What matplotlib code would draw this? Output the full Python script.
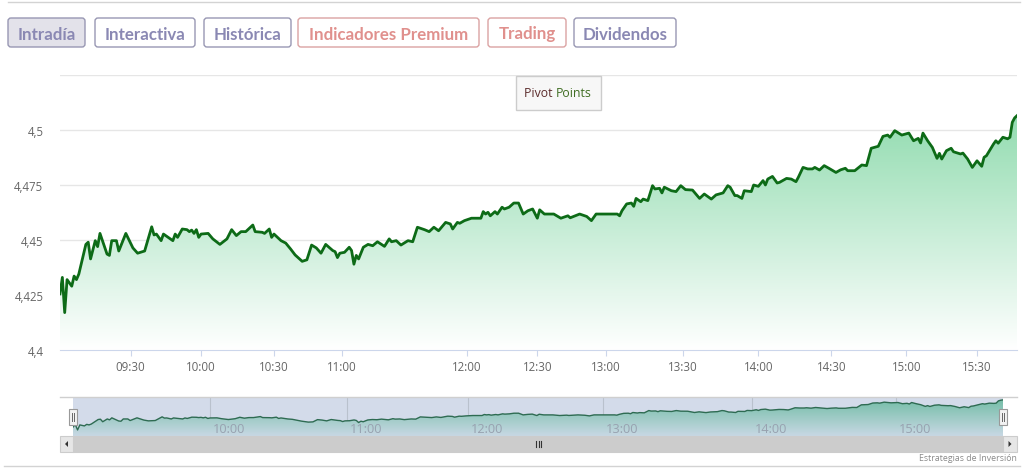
import numpy as np
import matplotlib
matplotlib.use("Agg")
import matplotlib.pyplot as plt
from matplotlib.patches import Rectangle, FancyBboxPatch, Polygon

W, H = 1033, 477

# ordinal minute index (Highstock-style axis) and price
idx = [0, 1, 2, 3, 5, 6, 7, 8, 11, 12, 13, 15, 16, 17, 20, 21, 22, 24, 25, 28,
       31, 33, 36, 39, 40, 41, 43, 44, 48, 49, 50, 52, 54, 55, 56, 57, 58, 59, 60, 63,
       65, 68, 71, 73, 75, 77, 79, 82, 83, 86, 87, 89, 90, 91, 94, 96, 98, 100, 103, 105,
       107, 109, 111, 113, 116, 117, 118, 119, 121, 123, 124, 125, 126, 127, 129, 131, 133, 135, 138, 140,
       141, 143, 145, 148, 150, 152, 155, 157, 159, 161, 164, 166, 167, 169, 170, 172, 175, 179, 180, 181,
       182, 183, 185, 186, 188, 189, 191, 193, 195, 197, 199, 201, 203, 204, 206, 210, 213, 216, 217, 221,
       224, 226, 228, 237, 238, 239, 241, 243, 244, 245, 247, 248, 250, 252, 253, 255, 256, 257, 260, 262,
       264, 266, 269, 272, 274, 277, 279, 282, 284, 285, 287, 288, 290, 291, 294, 295, 297, 299, 300, 301,
       303, 305, 306, 309, 311, 313, 314, 316, 318, 320, 321, 323, 325, 327, 330, 332, 334, 335, 338, 341,
       343, 345, 348, 350, 352, 353, 355, 358, 361, 363, 365, 366, 367, 369, 371, 373, 374, 375, 377, 379,
       380, 383, 384, 386, 388, 390, 392, 393, 394, 397, 398, 399, 401, 403, 404, 405, 406, 407]
price = [4.4255, 4.433, 4.417, 4.432, 4.429, 4.4336, 4.432, 4.4345, 4.448, 4.449, 4.4414, 4.4497, 4.447, 4.453, 4.4436, 4.443, 4.4497, 4.4497, 4.445, 4.453,
         4.4464, 4.444, 4.445, 4.456, 4.4523, 4.4527, 4.4497, 4.4527, 4.4497, 4.4527, 4.4512, 4.455, 4.4547, 4.4538, 4.4545, 4.453, 4.4547, 4.4512, 4.4527, 4.453,
         4.4505, 4.448, 4.4505, 4.4547, 4.452, 4.4538, 4.4538, 4.4568, 4.4538, 4.4535, 4.453, 4.455, 4.4512, 4.4527, 4.4497, 4.4486, 4.446, 4.4432, 4.4403, 4.441,
         4.4477, 4.4464, 4.444, 4.448, 4.4452, 4.4447, 4.442, 4.444, 4.4444, 4.4467, 4.4452, 4.439, 4.443, 4.4414, 4.4467, 4.448, 4.4474, 4.4492, 4.4471, 4.4505,
         4.4492, 4.4497, 4.4477, 4.4497, 4.4492, 4.4558, 4.4547, 4.4538, 4.4558, 4.4542, 4.458, 4.4573, 4.455, 4.458, 4.4576, 4.4588, 4.4599, 4.4599, 4.4629, 4.4618,
         4.4626, 4.461, 4.4629, 4.4618, 4.4649, 4.4641, 4.4649, 4.4668, 4.4668, 4.4618, 4.4633, 4.4641, 4.4599, 4.4637, 4.4618, 4.4618, 4.4599, 4.461, 4.4601, 4.4618,
         4.4607, 4.4588, 4.4618, 4.4618, 4.461, 4.4633, 4.4664, 4.4668, 4.4653, 4.4689, 4.4674, 4.4686, 4.4679, 4.4747, 4.4732, 4.4735, 4.4714, 4.474, 4.4724, 4.472,
         4.4747, 4.4729, 4.4727, 4.4689, 4.4709, 4.4686, 4.4705, 4.4714, 4.4747, 4.474, 4.4702, 4.4702, 4.4689, 4.4724, 4.472, 4.475, 4.4744, 4.477, 4.475, 4.4777,
         4.4789, 4.4759, 4.4762, 4.478, 4.4777, 4.4765, 4.4785, 4.483, 4.4823, 4.4823, 4.483, 4.4818, 4.4838, 4.4826, 4.4807, 4.4819, 4.4826, 4.4815, 4.4815, 4.4841,
         4.4838, 4.4917, 4.4926, 4.4971, 4.4977, 4.4967, 4.4997, 4.4977, 4.4986, 4.4951, 4.4962, 4.4941, 4.4986, 4.4951, 4.4921, 4.4871, 4.4894, 4.4868, 4.4906, 4.4917,
         4.4901, 4.4891, 4.4895, 4.4868, 4.483, 4.486, 4.4835, 4.4876, 4.4883, 4.4936, 4.4951, 4.494, 4.4967, 4.496, 4.4967, 4.5035, 4.5055, 4.5065]

tick_idx = [30, 60, 91, 120, 173, 203, 232, 265, 297, 328, 360, 390]
tick_lbl = ["09:30", "10:00", "10:30", "11:00", "12:00", "12:30", "13:00",
            "13:30", "14:00", "14:30", "15:00", "15:30"]
nav_idx = [60, 120, 173, 232, 297, 360]
nav_lbl = ["10:00", "11:00", "12:00", "13:00", "14:00", "15:00"]
y_ticks = [4.4, 4.425, 4.45, 4.475, 4.5, 4.525]
y_lbl = ["4,4", "4,425", "4,45", "4,475", "4,5", ""]

buttons = ["Intradía", "Interactiva", "Histórica", "Indicadores Premium", "Trading", "Dividendos"]
btn_x = [(8, 85), (95, 195), (204, 291), (298, 479), (488, 566), (574, 676)]

plt.rcParams["font.family"] = ["Open Sans", "DejaVu Sans"]


def px_axes(fig, l, t, r, b):
    return fig.add_axes([l / W, 1 - b / H, (r - l) / W, (b - t) / H])


def gradient_fill(ax, x, y, base, top_rgb, bot_rgb, y0, y1, z=1):
    g = np.linspace(0, 1, 256)[:, None, None]
    img = np.array(top_rgb)[None, None, :] * (1 - g) + np.array(bot_rgb)[None, None, :] * g
    im = ax.imshow(img / 255.0, aspect="auto", extent=[x[0], x[-1], y0, y1],
                   origin="upper", zorder=z, interpolation="bilinear")
    poly = ax.fill_between(x, y, base, facecolor="none", edgecolor="none")
    im.set_clip_path(poly.get_paths()[0], transform=ax.transData)


x = np.array(idx, dtype=float)
y = np.array(price)

fig = plt.figure(figsize=(W / 100, H / 100), dpi=100)

# ---- main chart ----
ax = px_axes(fig, 60, 76, 1017, 351)
gradient_fill(ax, x, y, 4.4, (128, 214, 163), (255, 255, 255), 4.4, 4.525)
ax.plot(x, y, color="#0d6b17", lw=2.0, zorder=3, solid_joinstyle="round")
ax.set_xlim(0, 407)
ax.set_ylim(4.4, 4.525)
ax.set_yticks(y_ticks)
ax.set_yticklabels(y_lbl)
ax.set_xticks(tick_idx)
ax.set_xticklabels(tick_lbl)
ax.grid(axis="y", color="#e6e6e6", lw=1)
ax.set_axisbelow(True)
for s in ["top", "left", "right"]:
    ax.spines[s].set_visible(False)
ax.spines["bottom"].set_color("#ccd6eb")
ax.tick_params(axis="y", length=0, pad=12, labelsize=8.3, labelcolor="#666666")
ax.tick_params(axis="x", length=4, color="#ccd6eb", pad=3, labelsize=8.3, labelcolor="#666666")
ax.set_facecolor("none")

# ---- navigator ----
nav = px_axes(fig, 73, 398, 1003, 437)
nav.set_facecolor("#d3dbea")
gradient_fill(nav, x, y, 4.399, (112, 188, 164), (200, 216, 228), 4.399, 4.515, z=2)
nav.plot(x, y, color="#2e6b52", lw=1.0, zorder=3)
nav.set_xlim(0, 407)
nav.set_ylim(4.399, 4.515)
for xi, lb in zip(nav_idx, nav_lbl):
    nav.axvline(xi, color="#b9c1cd", lw=0.8, zorder=1.5)
    nav.text(xi + 1.3, 4.402, lb, fontsize=9.2, color="#98a2b0", ha="left", va="bottom", zorder=4)
nav.set_xticks([])
nav.set_yticks([])
for s in nav.spines.values():
    s.set_visible(False)

# ---- overlay: buttons, scrollbar, frame lines ----
ov = fig.add_axes([0, 0, 1, 1], zorder=10)
ov.set_xlim(0, W)
ov.set_ylim(H, 0)
ov.axis("off")
ov.patch.set_alpha(0)

ov.plot([8, 1020], [3, 3], color="#d3d3d3", lw=1)
ov.plot([4, 1020], [467, 467], color="#d3d3d3", lw=1)
ov.plot([60, 1017], [397.5, 397.5], color="#cfcfcf", lw=1)

for name, (x0, x1) in zip(buttons, btn_x):
    premium = name in ("Indicadores Premium", "Trading")
    edge = "#dba3a3" if premium else "#9897b3"
    tcol = "#e0908d" if premium else "#8a88b3"
    face = "#e3e2ea" if name == "Intradía" else "white"
    ov.add_patch(FancyBboxPatch((x0, 19), x1 - x0, 29, boxstyle="round,pad=0,rounding_size=3",
                                fc=face, ec=edge, lw=1))
    ov.text((x0 + x1) / 2, 34.5, name, ha="center", va="center", fontsize=12.2,
            fontweight="bold", color=tcol, family=["Lato", "DejaVu Sans"])

# pivot points button
ov.add_patch(Rectangle((516, 77), 85, 34, fc="#f7f7f7", ec="#cccccc", lw=1))
t1 = ov.text(524, 93.5, "Pivot ", ha="left", va="center", fontsize=8.8, color="#5b2b2b")
fig.canvas.draw()
bb = t1.get_window_extent()
inv = ov.transData.inverted()
xe = inv.transform((bb.x1, bb.y0))[0]
ov.text(xe, 93.5, "Points", ha="left", va="center", fontsize=8.8, color="#3f6d22")

# navigator handles
for hx in (69, 999):
    ov.add_patch(Rectangle((hx, 410), 8, 16, fc="#f2f2f2", ec="#999999", lw=0.8))
    ov.plot([hx + 3.2, hx + 3.2], [414, 422], color="#666666", lw=0.7)
    ov.plot([hx + 4.8, hx + 4.8], [414, 422], color="#666666", lw=0.7)

# scrollbar
ov.add_patch(Rectangle((73, 437), 930, 16, fc="#cccccc", ec="#cccccc", lw=0.8))
ov.add_patch(Rectangle((60, 437), 13, 16, fc="#e6e6e6", ec="#cccccc", lw=0.8))
ov.add_patch(Rectangle((1003, 437), 14, 16, fc="#e6e6e6", ec="#cccccc", lw=0.8))
ov.add_patch(Polygon([[68, 442], [68, 448], [65, 445]], closed=True, fc="#333333", ec="none"))
ov.add_patch(Polygon([[1008.5, 442], [1008.5, 448], [1011.5, 445]], closed=True, fc="#333333", ec="none"))
for gx in (536, 538.5, 541):
    ov.plot([gx, gx], [442, 448], color="#333333", lw=0.8)

ov.text(1017, 459, "Estrategias de Inversión", ha="right", va="center", fontsize=6.3,
        color="#8a8a8a")

fig.savefig("out.png", dpi=100)
